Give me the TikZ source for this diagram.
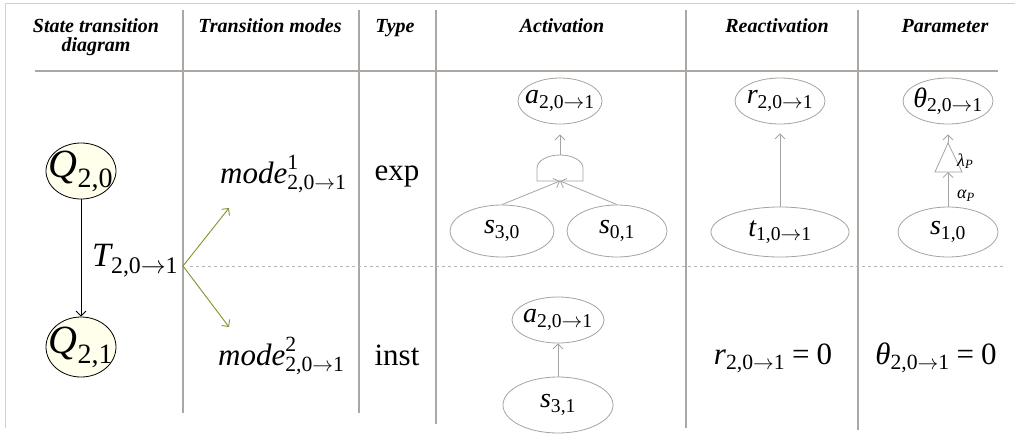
\documentclass[tikz,border=0pt]{standalone}
\usepackage{amsmath}
\usepackage{fontspec}
\setmainfont{Liberation Serif}
\usetikzlibrary{arrows.meta,positioning,shapes.geometric}
\definecolor{gridgray}{RGB}{172,167,162}
\definecolor{framegray}{RGB}{208,208,208}
\definecolor{edgegray}{RGB}{168,163,158}
\definecolor{dashgray}{RGB}{180,180,180}
\definecolor{statefill}{RGB}{255,255,236}
\definecolor{modegreen}{RGB}{122,150,45}
\newcommand{\ix}[2]{\textit{#1}_{#2}}
\newcommand{\trs}{\text{2,0}{\rightarrow}\text{1}}
\begin{document}
\begin{tikzpicture}[x=1pt,y=-1pt,
  every node/.style={inner sep=0pt},
  head/.style={font=\fontsize{20}{22}\selectfont\bfseries\itshape,anchor=base},
  big/.style={font=\fontsize{31}{31}\selectfont,anchor=base},
  var/.style={draw=edgegray,line width=0.8pt,ellipse,fill=white},
  lab/.style={label={[font=\fontsize{28}{28}\selectfont]center:#1}},
  state/.style={draw=black,line width=0.8pt,ellipse,fill=statefill},
  rule/.style={gridgray,line width=1.1pt},
  link/.style={edgegray,line width=0.8pt,-{Straight Barb[length=5pt,width=10pt]}}]
\useasboundingbox (0,0) rectangle (1015,437);
\draw[framegray,line width=1pt] (5,428) -- (5,3) -- (1015,3);
\draw[rule,line width=2pt] (35,71) -- (998,71);
\draw[rule] (183,10) -- (183,413); \draw[rule] (359,10) -- (359,413); \draw[rule] (436,10) -- (436,424);
\draw[rule,line width=2pt] (686,10) -- (686,428); \draw[rule,line width=2pt] (858,10) -- (858,430);
\draw[dashgray,dashed,line width=1pt] (190,266) -- (1005,266);
\node[head] (hstate) at (96,32) {State transition};
\node[head] (hdiag) at (96,51) {diagram};
\node[head] (hmodes) at (270,32) {Transition modes};
\node[head] (htype) at (395,32) {Type};
\node[head] (hact) at (562,32) {Activation};
\node[head] (hreact) at (777,32) {Reactivation};
\node[head] (hpar) at (945,32) {Parameter};
\node[state,minimum width=70pt,minimum height=56pt,label={[font=\fontsize{40}{40}\selectfont]center:$\ix{Q}{\text{2,0}}$}] (Q20) at (81,171) {};
\node[state,minimum width=70pt,minimum height=60pt,label={[font=\fontsize{40}{40}\selectfont]center:$\ix{Q}{\text{2,1}}$}] (Q21) at (81,347) {};
\draw[line width=0.8pt,-{Straight Barb[length=5pt,width=10pt]}] (Q20) -- (Q21);
\node[font=\fontsize{34}{34}\selectfont,anchor=base west] (T) at (92,266) {$\ix{T}{\trs}$};
\coordinate (fork) at (183,266); \coordinate (up) at (229,208); \coordinate (down) at (229,327);
\draw[modegreen,line width=0.9pt,-{Straight Barb[length=5pt,width=10pt]}] (fork) -- (up);
\draw[modegreen,line width=0.9pt,-{Straight Barb[length=5pt,width=10pt]}] (fork) -- (down);
\node[big,anchor=base west] (mode1) at (220,183) {$\textit{mode}^{\text{1}}_{\trs}$};
\node[big,anchor=base west] (mode2) at (218,365) {$\textit{mode}^{\text{2}}_{\trs}$};
\node[big] (exp) at (397,180) {exp};
\node[big] (inst) at (397,365) {inst};
\node[var,minimum width=84pt,minimum height=46pt,lab={$\ix{a}{\trs}$}] (a1) at (560,101) {};
\node[var,minimum width=104pt,minimum height=52pt,lab={$\ix{s}{\text{3,0}}$}] (s30) at (502,231) {};
\node[var,minimum width=100pt,minimum height=52pt,lab={$\ix{s}{\text{0,1}}$}] (s01) at (617,231) {};
\coordinate (gatein) at (560,181); \coordinate (gateout) at (560,155);
\draw[edgegray,line width=0.8pt,fill=white] (537,181) -- (537,168) arc[start angle=180,end angle=0,x radius=23pt,y radius=13pt] -- (583,181) -- cycle;
\draw[link] (s30.north) -- (gatein); \draw[link] (s01.north) -- (gatein);
\draw[link,shorten >=10pt] (gateout) -- (a1.south);
\node[var,minimum width=90pt,minimum height=46pt,lab={$\ix{r}{\trs}$}] (r1) at (780,101) {};
\node[var,minimum width=138pt,minimum height=50pt,lab={$\ix{t}{\text{1,0}{\rightarrow}\text{1}}$}] (t1) at (780,232) {};
\draw[link,shorten >=9pt] (t1.north) -- (r1.south);
\node[var,minimum width=90pt,minimum height=46pt,lab={$\ix{θ}{\trs}$}] (th1) at (948,101) {};
\node[var,minimum width=100pt,minimum height=50pt,lab={$\ix{s}{\text{1,0}}$}] (s10) at (948,232) {};
\coordinate (tritop) at (948,143); \coordinate (tribase) at (948,172);
\draw[edgegray,line width=0.8pt,fill=white] (935,172) -- (tritop) -- (962,172) -- cycle;
\draw[link] (s10.north) -- (tribase);
\draw[link,shorten >=10pt] (tritop) -- (th1.south);
\node[font=\fontsize{18}{18}\selectfont,anchor=west] (lam) at (957,161) {$\textit{λ}_{\textit{P}}$};
\node[font=\fontsize{18}{18}\selectfont,anchor=west] (alp) at (957,196) {$\textit{α}_{\textit{P}}$};
\node[var,minimum width=92pt,minimum height=46pt,lab={$\ix{a}{\trs}$}] (a2) at (558,320) {};
\node[var,minimum width=110pt,minimum height=56pt,lab={$\ix{s}{\text{3,1}}$}] (s31) at (558,405) {};
\draw[link] (s31.north) -- (a2.south);
\node[big] (rzero) at (773,364) {$\ix{r}{\trs}\mathrel{\text{=}}\text{0}$};
\node[big] (thzero) at (936,364) {$\ix{θ}{\trs}\mathrel{\text{=}}\text{0}$};
\end{tikzpicture}
\end{document}
